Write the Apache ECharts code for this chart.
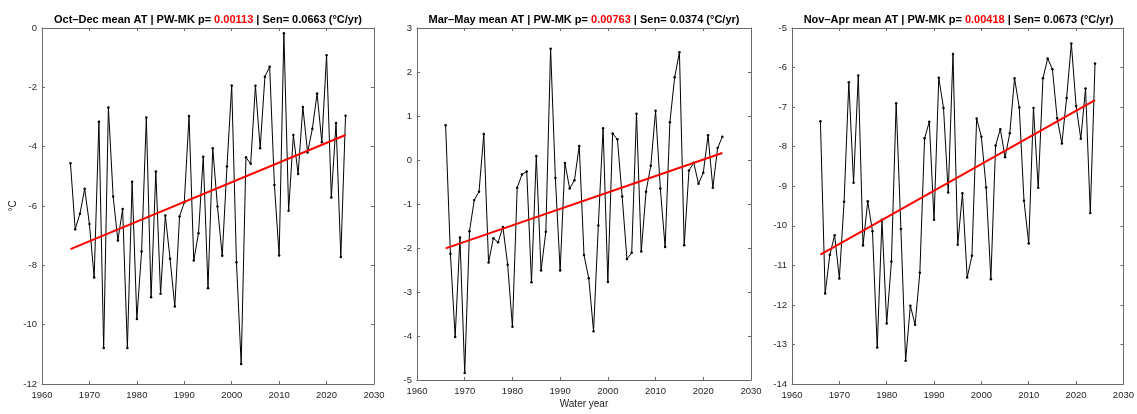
<!DOCTYPE html>
<html>
<head>
<meta charset="utf-8">
<script src="https://cdn.jsdelivr.net/npm/echarts@6/dist/echarts.min.js"></script>
<style>
html, body { margin: 0; padding: 0; background: #ffffff; }
#chart { width: 1137px; height: 414px; }
</style>
</head>
<body>
<div id="chart"></div>
<script>
// Water years covered by the seasonal series
const years = [
  1966, 1967, 1968, 1969, 1970, 1971, 1972, 1973, 1974, 1975,
  1976, 1977, 1978, 1979, 1980, 1981, 1982, 1983, 1984, 1985,
  1986, 1987, 1988, 1989, 1990, 1991, 1992, 1993, 1994, 1995,
  1996, 1997, 1998, 1999, 2000, 2001, 2002, 2003, 2004, 2005,
  2006, 2007, 2008, 2009, 2010, 2011, 2012, 2013, 2014, 2015,
  2016, 2017, 2018, 2019, 2020, 2021, 2022, 2023, 2024
];

// Seasonal mean air temperature (°C)
const octDec = [
  -4.56, -6.78, -6.26, -5.42, -6.61, -8.41, -3.16, -10.79, -2.68, -5.68,
  -7.16, -6.10, -10.79, -5.18, -9.81, -7.53, -3.02, -9.08, -4.84, -8.96,
  -6.32, -7.78, -9.39, -6.35, -5.88, -2.97, -7.84, -6.92, -4.34, -8.77,
  -4.05, -6.02, -7.68, -4.67, -1.94, -7.90, -11.33, -4.36, -4.58, -1.95,
  -4.05, -1.64, -1.31, -5.29, -7.67, -0.18, -6.16, -3.61, -4.92, -2.66,
  -4.20, -3.40, -2.21, -3.85, -0.92, -5.71, -3.20, -7.72, -2.96
];
const marMay = [
  0.79, -2.13, -4.02, -1.76, -4.84, -1.62, -0.91, -0.72, 0.59, -2.33,
  -1.78, -1.87, -1.52, -2.38, -3.79, -0.63, -0.33, -0.26, -2.78, 0.09,
  -2.51, -1.63, 2.53, -0.41, -2.51, -0.07, -0.65, -0.46, 0.32, -2.16,
  -2.69, -3.89, -1.49, 0.72, -2.77, 0.60, 0.47, -0.83, -2.25, -2.11,
  1.05, -2.08, -0.72, -0.13, 1.12, -0.65, -1.98, 0.86, 1.88, 2.45,
  -1.94, -0.24, -0.06, -0.54, -0.29, 0.56, -0.63, 0.27, 0.53
];
const novApr = [
  -7.36, -11.71, -10.73, -10.24, -11.33, -9.39, -6.37, -8.91, -6.20, -10.50,
  -9.38, -10.14, -13.08, -9.85, -12.47, -10.90, -6.90, -10.08, -13.41, -12.02,
  -12.50, -11.19, -7.79, -7.37, -9.85, -6.26, -7.02, -9.16, -5.66, -10.48,
  -9.18, -11.31, -10.76, -7.29, -7.75, -9.03, -11.35, -7.97, -7.56, -8.27,
  -7.66, -6.27, -7.01, -9.37, -10.45, -7.02, -9.04, -6.27, -5.77, -6.04,
  -7.28, -7.92, -6.77, -5.39, -6.97, -7.80, -6.53, -9.68, -5.90
];

// Trend statistics per season
const seasons = ['Oct\u2013Dec', 'Mar\u2013May', 'Nov\u2013Apr'];
const pValues = ['0.00113', '0.00763', '0.00418'];
const senSlopes = [0.0663, 0.0374, 0.0673];
const trendMid = [-5.53, -0.925, -8.775];   // trend level at the middle year

// Axis ranges: [min, max, interval]
const xRange = [1960, 2030, 10];
const yRanges = [[-12, 0, 2], [-5, 3, 1], [-14, -5, 1]];

const seriesValues = [octDec, marMay, novApr];

// Panel layout (pixels)
const layout = [
  { left: 42, width: 332 },
  { left: 417, width: 334 },
  { left: 792, width: 333 }
];
const plotTop = 28;
const plotHeight = 356;

const axisColor = '#6a6a6a';
const textColor = '#262626';
const font = 'Liberation Sans, Arial, Helvetica, sans-serif';

const grids = [], xAxes = [], yAxes = [], series = [], graphics = [];

layout.forEach((p, i) => {
  grids.push({ left: p.left, top: plotTop, width: p.width, height: plotHeight, containLabel: false });

  const tick = { show: true, inside: true, length: 3, lineStyle: { color: axisColor, width: 1 } };
  const line = { show: true, onZero: false, lineStyle: { color: axisColor, width: 1 } };
  const label = { color: textColor, fontSize: 9.5, fontFamily: font, formatter: v => String(v) };

  // bottom and top x axes (box frame)
  xAxes.push({
    type: 'value', gridIndex: i, position: 'bottom',
    min: xRange[0], max: xRange[1], interval: xRange[2],
    axisLine: line, axisTick: tick, splitLine: { show: false },
    axisLabel: Object.assign({ margin: 6, showMinLabel: true, showMaxLabel: true }, label),
    name: i === 1 ? 'Water year' : '', nameLocation: 'middle', nameGap: 19,
    nameMoveOverlap: false,
    nameTextStyle: { color: textColor, fontSize: 10, fontFamily: font }
  });
  xAxes.push({
    type: 'value', gridIndex: i, position: 'top',
    min: xRange[0], max: xRange[1], interval: xRange[2],
    axisLine: line, axisTick: tick, splitLine: { show: false },
    axisLabel: { show: false }
  });

  const yr = yRanges[i];
  yAxes.push({
    type: 'value', gridIndex: i, position: 'left',
    min: yr[0], max: yr[1], interval: yr[2],
    axisLine: line, axisTick: tick, splitLine: { show: false },
    axisLabel: Object.assign({ margin: 5, showMinLabel: true, showMaxLabel: true }, label),
    name: i === 0 ? '\u00B0C' : '', nameLocation: 'middle', nameGap: 24,
    nameMoveOverlap: false,
    nameTextStyle: { color: textColor, fontSize: 10, fontFamily: font }
  });
  yAxes.push({
    type: 'value', gridIndex: i, position: 'right',
    min: yr[0], max: yr[1], interval: yr[2],
    axisLine: line, axisTick: tick, splitLine: { show: false },
    axisLabel: { show: false }
  });

  const vals = seriesValues[i];
  series.push({
    type: 'line', xAxisIndex: 2 * i, yAxisIndex: 2 * i,
    data: years.map((y, k) => [y, vals[k]]),
    symbol: 'circle', symbolSize: 2.5, showSymbol: true,
    itemStyle: { color: '#000000' },
    lineStyle: { color: '#000000', width: 1 },
    emphasis: { disabled: true },
    z: 2
  });

  // Sen's slope trend line through the middle year
  const y0 = years[0], y1 = years[years.length - 1];
  const mid = (y0 + y1) / 2;
  const trendAt = yy => trendMid[i] + senSlopes[i] * (yy - mid);
  series.push({
    type: 'line', xAxisIndex: 2 * i, yAxisIndex: 2 * i,
    data: [[y0, trendAt(y0)], [y1, trendAt(y1)]],
    showSymbol: false, symbol: 'none',
    lineStyle: { color: '#ff0000', width: 2 },
    emphasis: { disabled: true },
    z: 3
  });

  graphics.push({
    type: 'text',
    x: p.left + p.width / 2,
    y: 19.5,
    style: {
      text: '{b|' + seasons[i] + ' mean AT | PW-MK p= }{r|' + pValues[i] + '}{b| | Sen= ' + senSlopes[i].toFixed(4) + ' (\u00B0C/yr)}',
      align: 'center',
      verticalAlign: 'middle',
      rich: {
        b: { fontSize: 11, fontWeight: 'bold', fontFamily: font, fill: '#000000', color: '#000000' },
        r: { fontSize: 11, fontWeight: 'bold', fontFamily: font, fill: '#ff0000', color: '#ff0000' }
      }
    }
  });
});

const chart = echarts.init(document.getElementById('chart'), null, { renderer: 'canvas' });
chart.setOption({
  animation: false,
  backgroundColor: '#ffffff',
  grid: grids,
  xAxis: xAxes,
  yAxis: yAxes,
  series: series,
  graphic: graphics
});
</script>
</body>
</html>
